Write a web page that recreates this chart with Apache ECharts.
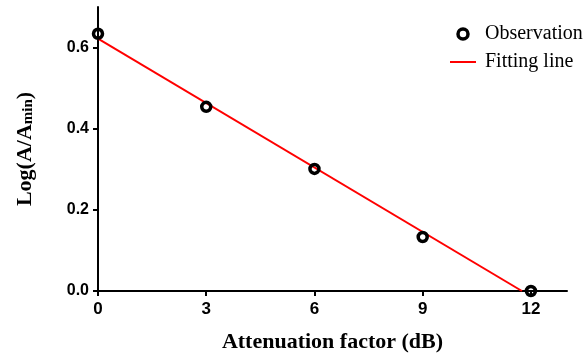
<!DOCTYPE html>
<html>
<head>
<meta charset="utf-8">
<script src="https://cdn.jsdelivr.net/npm/echarts@6/dist/echarts.min.js"></script>
<style>
  html, body { margin: 0; padding: 0; background: #fff; }
  #main { width: 587px; height: 358px; }
</style>
</head>
<body>
<div id="main"></div>
<script>
var obsX = [0, 3, 6, 9, 12];
var obsY = [0.634, 0.454, 0.301, 0.133, 0.0];
// fitted straight line, two end points
var fitX = [0, 11.75];
var fitY = [0.622, 0.0];
// tick labels
var xTicks = [0, 3, 6, 9, 12];
var yTicks = [0, 0.2, 0.4, 0.6];

var obsData = [];
for (var i = 0; i < obsX.length; i++) {
    obsData.push([obsX[i], obsY[i]]);
}
var fitData = [];
for (var j = 0; j < fitX.length; j++) {
    fitData.push([fitX[j], fitY[j]]);
}

var myChart = echarts.init(document.getElementById('main'));

var serif = 'Liberation Serif, Times New Roman';
var sans = 'Liberation Sans, Arial';

var option = {
    animation: false,
    grid: { left: 98, right: 20, top: 7, bottom: 67 },
    legend: {
        orient: 'vertical',
        left: 445,
        top: 19,
        itemGap: 8,
        itemWidth: 26,
        itemHeight: 10,
        textStyle: {
            fontFamily: serif,
            fontSize: 20,
            color: '#000',
            padding: [0, 0, 0, 4]
        },
        data: [
            { name: 'Observation', icon: 'circle',
              itemStyle: { color: '#fff', borderColor: '#000', borderWidth: 3.5 } },
            { name: 'Fitting line', icon: 'path://M0,0 L26,0 L26,2 L0,2 Z',
              itemStyle: { color: '#ff0000' } }
        ]
    },
    xAxis: {
        type: 'value',
        min: 0,
        max: 13,
        splitLine: { show: false },
        axisLine: { onZero: false, lineStyle: { color: '#000', width: 2 } },
        axisTick: { length: 5, customValues: xTicks, lineStyle: { color: '#000', width: 2 } },
        axisLabel: {
            margin: 10,
            customValues: xTicks,
            fontFamily: sans,
            fontWeight: 'bold',
            fontSize: 17,
            color: '#000'
        },
        name: 'Attenuation factor (dB)',
        nameLocation: 'middle',
        nameGap: 40,
        nameTextStyle: {
            fontFamily: serif,
            fontWeight: 'bold',
            fontSize: 22,
            color: '#000'
        }
    },
    yAxis: {
        type: 'value',
        min: 0,
        max: 0.7,
        splitLine: { show: false },
        axisLine: { onZero: false, lineStyle: { color: '#000', width: 2 } },
        axisTick: { length: 5, customValues: yTicks, lineStyle: { color: '#000', width: 2 } },
        axisLabel: {
            margin: 9,
            customValues: yTicks,
            formatter: function (v) { return v.toFixed(1); },
            fontFamily: sans,
            fontWeight: 'bold',
            fontSize: 16,
            color: '#000'
        },
        name: '{m|Log(A/A}{s|min}{m|)}',
        nameLocation: 'middle',
        nameGap: 62,
        nameTextStyle: {
            color: '#000',
            rich: {
                m: {
                    fontFamily: serif,
                    fontWeight: 'bold',
                    fontSize: 22,
                    color: '#000',
                    verticalAlign: 'bottom',
                    lineHeight: 30
                },
                s: {
                    fontFamily: serif,
                    fontWeight: 'bold',
                    fontSize: 15,
                    color: '#000',
                    verticalAlign: 'bottom',
                    lineHeight: 22
                }
            }
        }
    },
    series: [
        {
            name: 'Fitting line',
            type: 'line',
            data: fitData,
            symbol: 'none',
            lineStyle: { color: '#ff0000', width: 2 },
            itemStyle: { color: '#ff0000' },
            z: 2
        },
        {
            name: 'Observation',
            type: 'scatter',
            data: obsData,
            symbol: 'circle',
            symbolSize: 9,
            itemStyle: { color: 'rgba(255,255,255,0)', borderColor: '#000', borderWidth: 3.5, opacity: 1 },
            z: 3
        }
    ]
};

myChart.setOption(option);
</script>
</body>
</html>
